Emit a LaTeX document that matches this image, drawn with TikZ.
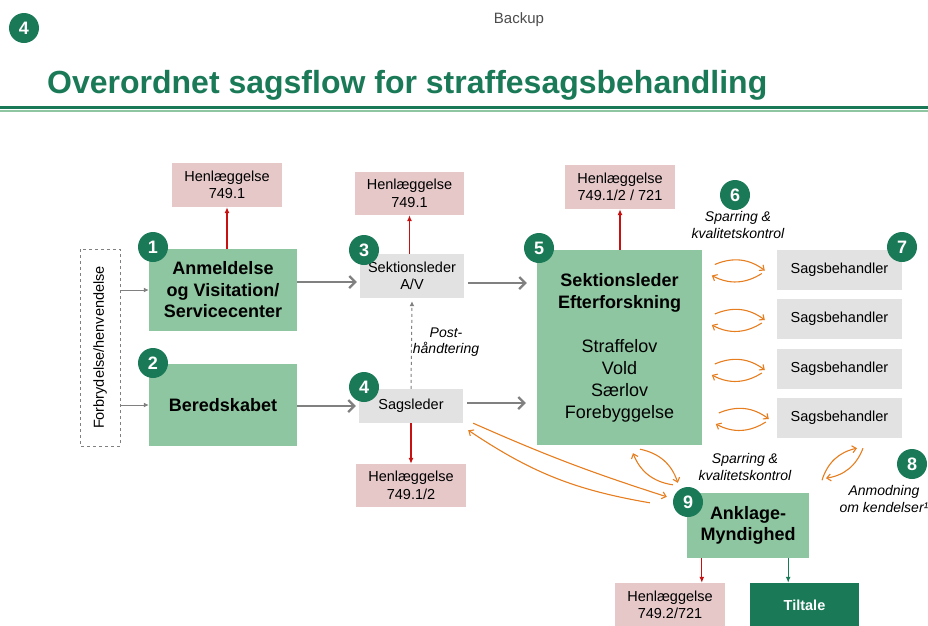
\documentclass[tikz,border=0pt]{standalone}
\usepackage{fontspec}
\setmainfont{Liberation Sans}
\usepackage{xcolor}
\usetikzlibrary{arrows.meta,positioning,calc}
\definecolor{dkgreen}{RGB}{26,122,88}
\definecolor{ltgreen}{RGB}{142,198,161}
\definecolor{boxgrey}{RGB}{226,226,226}
\definecolor{henpink}{RGB}{230,200,201}
\definecolor{arrred}{RGB}{200,16,16}
\definecolor{arrorange}{RGB}{230,125,30}
\definecolor{arrgrey}{RGB}{128,128,128}

\begin{document}
\begin{tikzpicture}[
    x=1pt, y=-1pt,
    >=Latex,
    mainbox/.style={fill=ltgreen, inner sep=0pt, align=center, font=\fontsize{18}{21.5}\selectfont\bfseries},
    greybox/.style={fill=boxgrey, inner sep=0pt, align=center, font=\fontsize{14.5}{17.5}\selectfont},
    henbox/.style={fill=henpink, inner sep=0pt, minimum width=110pt, minimum height=44pt, align=center, font=\fontsize{14.5}{17.5}\selectfont},
    badge/.style={circle, fill=dkgreen, text=white, inner sep=0pt, minimum size=30pt, font=\fontsize{18}{18}\selectfont\bfseries},
    note/.style={font=\fontsize{14}{16.5}\selectfont\itshape, align=center},
    flow/.style={draw=arrgrey, line width=2.2pt, -{Straight Barb[length=6pt,width=12pt]}},
    feed/.style={draw=arrgrey, line width=1pt, -{Latex[length=5pt,width=5pt]}},
    drop/.style={draw=arrred, line width=1.3pt, -{Latex[length=6pt,width=5pt]}},
    spar/.style={draw=arrorange, line width=1.1pt, -{Straight Barb[length=4pt,width=7pt]}}
]
\useasboundingbox (0,0) rectangle (928,625);

% header
\node[badge] (page) at (24,28) {4};
\node[font=\fontsize{15}{17}\selectfont, text=black!70] (backup) at (519,20) {Backup};
\node[anchor=base west, inner sep=0pt, font=\fontsize{32}{36}\selectfont\bfseries, text=dkgreen] (title) at (47,93) {Overordnet sagsflow for straffesagsbehandling};
\draw[dkgreen, line width=3pt] (0,107) -- (928,107);
\draw[ltgreen, line width=2pt] (0,110.5) -- (928,110.5);

% intake
\node[draw=arrgrey, dashed, rotate=90, minimum width=197pt, minimum height=40pt, inner sep=0pt, font=\fontsize{14.5}{17}\selectfont] (forb) at (100,347.5) {Forbrydelse/henvendelse};
\node[mainbox, minimum width=148pt, minimum height=82pt] (anm) at (223,290) {Anmeldelse\\og Visitation/\\Servicecenter};
\node[mainbox, minimum width=148pt, minimum height=82pt] (bered) at (223,405) {Beredskabet};
\node[henbox] (hen1) at (227,185) {Henlæggelse\\749.1};
\node[badge] (b1) at (153,247) {1};
\node[badge] (b2) at (153,363) {2};

% section leaders
\node[greybox, minimum width=104pt, minimum height=44pt] (sekav) at (412,276) {Sektionsleder\\A/V};
\node[greybox, minimum width=104pt, minimum height=34pt] (sagsl) at (411,406) {Sagsleder};
\node[henbox, minimum width=109pt, minimum height=43pt] (hen2) at (409.5,193.5) {Henlæggelse\\749.1};
\node[henbox, minimum height=43pt] (hen3) at (411,485.5) {Henlæggelse\\749.1/2};
\node[badge] (b3) at (364,250) {3};
\node[badge] (b4) at (364,387) {4};
\node[note] (post) at (446,342) {Post-\\håndtering};

% investigation
\node[mainbox, minimum width=165pt, minimum height=195pt, font=\fontsize{18}{22}\selectfont] (sekef) at (619.5,347.5) {\textbf{Sektionsleder}\\\textbf{Efterforskning}\\[22pt]Straffelov\\Vold\\Særlov\\Forebyggelse};
\node[henbox] (hen4) at (620,187) {Henlæggelse\\749.1/2 / 721};
\node[badge] (b5) at (539,248) {5};
\node[badge] (b6) at (735,195) {6};
\node[note] (spar1) at (738,225) {Sparring \&\\kvalitetskontrol};
\foreach \i/\y in {1/269.5,2/319,3/369,4/418}{
  \node[greybox, minimum width=125pt, minimum height=40pt] (sb\i) at (839.5,\y) {Sagsbehandler};
}
\node[badge] (b7) at (902,247) {7};

% prosecution
\node[mainbox, minimum width=122pt, minimum height=65pt] (ank) at (748,525.5) {Anklage-\\Myndighed};
\node[badge] (b9) at (688,502) {9};
\node[note] (spar2) at (745,467) {Sparring \&\\kvalitetskontrol};
\node[badge] (b8) at (912,464) {8};
\node[note] (anmod) at (884,499) {Anmodning\\om kendelser¹};
\node[henbox] (hen5) at (670,605) {Henlæggelse\\749.2/721};
\node[fill=dkgreen, text=white, minimum width=109pt, minimum height=44pt, inner sep=0pt, font=\fontsize{14.5}{17}\selectfont\bfseries] (tilt) at (804.5,605) {Tiltale};

% main flow
\draw[feed] (forb.south |- anm.west) -- (anm.west);
\draw[feed] (forb.south |- bered.west) -- (bered.west);
\draw[flow] ($(anm.east |- sekav.west)+(0,6)$) -- ($(sekav.west)+(-3,6)$);
\draw[flow] (bered.east |- sagsl.west) -- ($(sagsl.west)+(-3,0)$);
\draw[flow] ($(sekav.east)+(4,7)$) -- ($(sekef.west |- sekav.east)+(-10,7)$);
\draw[flow] ($(sagsl.east)+(4,-3)$) -- ($(sekef.west |- sagsl.east)+(-11,-3)$);
\draw[draw=arrgrey, dashed, line width=1pt, -{Latex[length=5pt,width=5pt]}] (sagsl.north) -- ($(sekav.south)+(0,3)$);

% henlaeggelse
\draw[drop] (hen1.south |- anm.north) -- (hen1.south);
\draw[drop] (hen2.south |- sekav.north) -- (hen2.south);
\draw[drop] (hen3.north |- sagsl.south) -- (hen3.north);
\draw[drop] (hen4.south |- sekef.north) -- (hen4.south);
\coordinate (ankred) at ($(ank.south west)+(15,0)$);
\coordinate (anktilt) at ($(ank.south east)+(-21,0)$);
\draw[drop] (ankred) -- (ankred |- hen5.north);
\draw[drop, draw=dkgreen] (anktilt) -- (anktilt |- tilt.north);

% sparring loops
\foreach \i/\dx in {1/0,2/0,3/0,4/4}{
  \coordinate (sa\i) at ($(sb\i.west)+(-62+\dx,-5)$);
  \coordinate (sb\i a) at ($(sb\i.west)+(-12+\dx,1)$);
  \coordinate (sc\i) at ($(sb\i.west)+(-15+\dx,4)$);
  \coordinate (sd\i) at ($(sb\i.west)+(-65+\dx,6)$);
  \draw[spar] (sa\i) to[bend left=30] (sb\i a);
  \draw[spar] (sc\i) to[bend left=30] (sd\i);
}
\coordinate (ka) at ($(sb4.south)+(-17.5,42)$);
\coordinate (kb) at ($(sb4.south)+(17.5,10)$);
\coordinate (kc) at ($(sb4.south)+(23.5,10)$);
\coordinate (kd) at ($(sb4.south)+(-13.5,40)$);
\draw[spar] (ka) to[bend left=30] (kb);
\draw[spar] (kc) to[bend left=30] (kd);

\coordinate (ea) at ($(sekef.south)+(20.5,4)$);
\coordinate (eb) at ($(ank.north west)+(-9,-10)$);
\coordinate (ec) at ($(ank.north west)+(-14,-8)$);
\coordinate (ed) at ($(sekef.south)+(13.5,8)$);
\draw[spar] (ea) to[bend left=30] (eb);
\draw[spar] (ec) to[bend left=30] (ed);

\coordinate (sa) at ($(sagsl.south east)+(10,0)$);
\coordinate (sz) at ($(ank.north west)+(-20,4)$);
\coordinate (ta) at ($(ank.north west)+(-37,10)$);
\coordinate (tz) at ($(sagsl.south east)+(5,7)$);
\draw[spar] (sa) to[bend right=3] (sz);
\draw[spar] (ta) to[bend left=12] (tz);
\end{tikzpicture}
\end{document}
